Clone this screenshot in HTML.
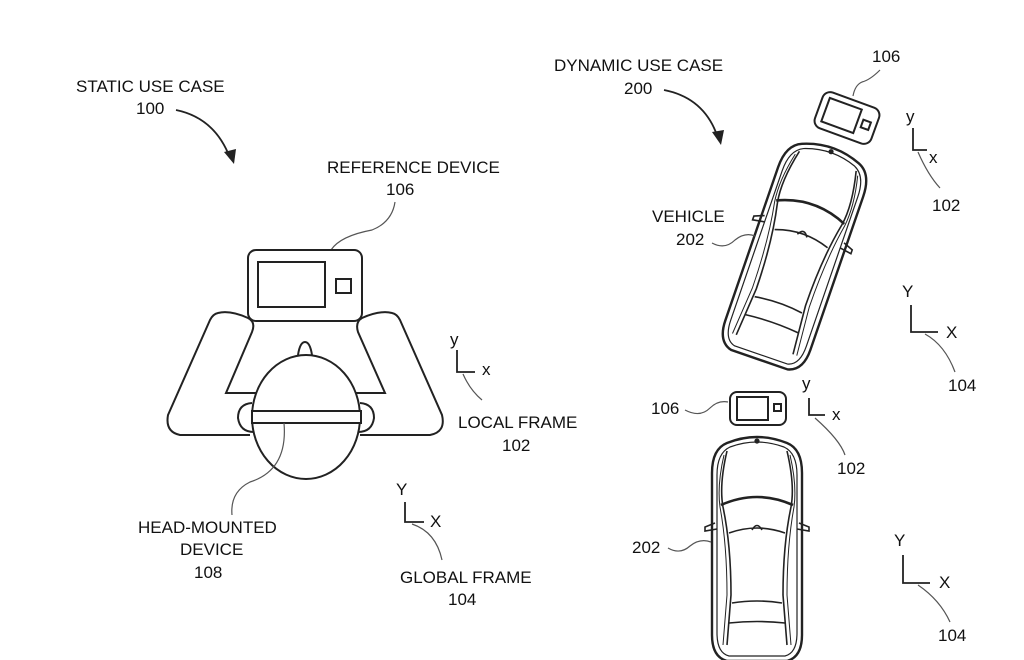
<!DOCTYPE html>
<html><head><meta charset="utf-8"><style>
html,body{margin:0;padding:0;background:#fff;}
svg{display:block;}
text{font-family:"Liberation Sans",sans-serif;font-size:17px;fill:#111;}
</style></head><body>
<svg width="1024" height="660" viewBox="0 0 1024 660" xmlns="http://www.w3.org/2000/svg">
<defs>
<g id="car" fill="none" stroke="#222" stroke-width="1.6">
  <path d="M -30,8 Q 0,-4 30,8 Q 45,14 45,38 L 45,200 Q 45,222 30,226 L -30,226 Q -45,222 -45,200 L -45,38 Q -45,14 -30,8 Z" stroke-width="2.4"/>
  <path d="M -27,12 Q 0,2 27,12 Q 40,18 40,40 L 40,198 Q 40,218 28,221 L -28,221 Q -40,218 -40,198 L -40,40 Q -40,18 -27,12 Z" stroke-width="1.2"/>
  <path d="M -36,70 Q 0,54 36,70" stroke-width="2.6"/>
  <path d="M -28,98 Q 0,88 28,98"/>
  <path d="M -25,168 Q 0,164 25,168"/>
  <path d="M -28,188 Q 0,185 28,188"/>
  <path d="M -30,16 Q -38,50 -34,72 Q -26,110 -26,160 L -30,210"/>
  <path d="M 30,16 Q 38,50 34,72 Q 26,110 26,160 L 30,210"/>
  <path d="M -33,20 Q -40,50 -37,72 Q -30,110 -30,160 L -34,210" stroke-width="1"/>
  <path d="M 33,20 Q 40,50 37,72 Q 30,110 30,160 L 34,210" stroke-width="1"/>
  <path d="M -42,88 L -52,92 L -52,96 L -40,94"/>
  <path d="M 42,88 L 52,92 L 52,96 L 40,94"/>
  <path d="M -5,95 Q 0,86 5,95"/>
  <circle cx="0" cy="6" r="1.8" fill="#222"/>
</g>
</defs>

<!-- Left: static use case -->
<text x="76" y="92">STATIC USE CASE</text>
<text x="136" y="114">100</text>
<path d="M176,110 Q215,118 230,158" fill="none" stroke="#222" stroke-width="1.8"/>
<path d="M224,152 L234,164 L236,149 Z" fill="#222"/>

<text x="327" y="173">REFERENCE DEVICE</text>
<text x="386" y="195">106</text>
<path d="M395,202 Q392,222 372,230 Q340,236 331,250" fill="none" stroke="#555" stroke-width="1.2"/>

<g fill="none" stroke="#222" stroke-width="2">
  <path d="M218,313 Q230,310 248,318 Q256,322 252,332 L226,393 L268,393 M250,435 L180,435 Q165,432 168,415 L210,320 Q213,314 218,313"/>
  <path d="M392,313 Q380,310 362,318 Q355,322 358,332 L385,393 L342,393 M360,435 L430,435 Q446,432 442,415 L400,320 Q397,314 392,313"/>
  <rect x="248" y="250" width="114" height="71" rx="8"/>
  <rect x="258" y="262" width="67" height="45"/>
  <rect x="336" y="279" width="15" height="14"/>
  <path d="M298,355 Q300,342 305,342 Q310,342 312,355"/>
  <path d="M252,403 Q238,404 238,418 Q240,432 254,432"/>
  <path d="M360,403 Q374,404 374,418 Q372,432 358,432"/>
  <ellipse cx="306" cy="417" rx="54" ry="62" fill="#fff"/>
  <rect x="252" y="411" width="109" height="12" fill="#fff"/>
</g>
<path d="M284,423 Q288,470 250,482 Q230,492 232,515" fill="none" stroke="#555" stroke-width="1.2"/>
<text x="138" y="533">HEAD-MOUNTED</text>
<text x="180" y="555">DEVICE</text>
<text x="194" y="578">108</text>

<!-- local frame -->
<text x="450" y="345">y</text>
<path d="M457,350 L457,372 L475,372" fill="none" stroke="#222" stroke-width="1.8"/>
<text x="482" y="375">x</text>
<path d="M463,374 Q470,390 482,400" fill="none" stroke="#555" stroke-width="1.2"/>
<text x="458" y="428">LOCAL FRAME</text>
<text x="502" y="451">102</text>

<!-- global frame -->
<text x="396" y="495">Y</text>
<path d="M405,502 L405,522 L424,522" fill="none" stroke="#222" stroke-width="1.8"/>
<text x="430" y="527">X</text>
<path d="M412,524 Q436,532 442,560" fill="none" stroke="#555" stroke-width="1.2"/>
<text x="400" y="583">GLOBAL FRAME</text>
<text x="448" y="605">104</text>

<!-- Right: dynamic use case -->
<text x="554" y="71">DYNAMIC USE CASE</text>
<text x="624" y="94">200</text>
<path d="M664,90 Q705,98 718,138" fill="none" stroke="#222" stroke-width="1.8"/>
<path d="M712,132 L721,145 L724,130 Z" fill="#222"/>

<text x="872" y="62">106</text>
<path d="M880,70 Q870,80 862,82 Q855,85 853,96" fill="none" stroke="#555" stroke-width="1.2"/>
<g transform="translate(847,118) rotate(20)" fill="none" stroke="#222" stroke-width="2">
  <rect x="-30" y="-19" width="60" height="38" rx="8"/>
  <rect x="-23" y="-13" width="34" height="25"/>
  <rect x="16" y="-4" width="8" height="8"/>
</g>
<use href="#car" transform="translate(833,146) rotate(19)"/>

<text x="906" y="122">y</text>
<path d="M913,128 L913,150 L927,150" fill="none" stroke="#222" stroke-width="1.8"/>
<text x="929" y="163">x</text>
<path d="M918,152 Q928,175 940,188" fill="none" stroke="#555" stroke-width="1.2"/>
<text x="932" y="211">102</text>

<text x="652" y="222">VEHICLE</text>
<text x="676" y="245">202</text>
<path d="M712,243 Q725,250 735,240 Q745,232 755,236" fill="none" stroke="#555" stroke-width="1.2"/>

<text x="902" y="297">Y</text>
<path d="M911,305 L911,332 L938,332" fill="none" stroke="#222" stroke-width="1.8"/>
<text x="946" y="338">X</text>
<path d="M925,334 Q945,345 955,372" fill="none" stroke="#555" stroke-width="1.2"/>
<text x="948" y="391">104</text>

<text x="651" y="414">106</text>
<path d="M685,410 Q700,418 710,408 Q718,400 728,402" fill="none" stroke="#555" stroke-width="1.2"/>
<g fill="none" stroke="#222" stroke-width="2">
  <rect x="730" y="392" width="56" height="33" rx="7"/>
  <rect x="737" y="397" width="31" height="23"/>
  <rect x="774" y="404" width="7" height="7"/>
</g>
<text x="802" y="389">y</text>
<path d="M809,398 L809,415 L825,415" fill="none" stroke="#222" stroke-width="1.8"/>
<text x="832" y="420">x</text>
<path d="M815,418 Q840,440 845,455" fill="none" stroke="#555" stroke-width="1.2"/>
<text x="837" y="474">102</text>

<use href="#car" transform="translate(757,435)"/>
<text x="632" y="553">202</text>
<path d="M668,548 Q680,555 690,546 Q700,538 711,542" fill="none" stroke="#555" stroke-width="1.2"/>

<text x="894" y="546">Y</text>
<path d="M903,555 L903,583 L930,583" fill="none" stroke="#222" stroke-width="1.8"/>
<text x="939" y="588">X</text>
<path d="M918,585 Q940,600 950,622" fill="none" stroke="#555" stroke-width="1.2"/>
<text x="938" y="641">104</text>
</svg>
</body></html>
